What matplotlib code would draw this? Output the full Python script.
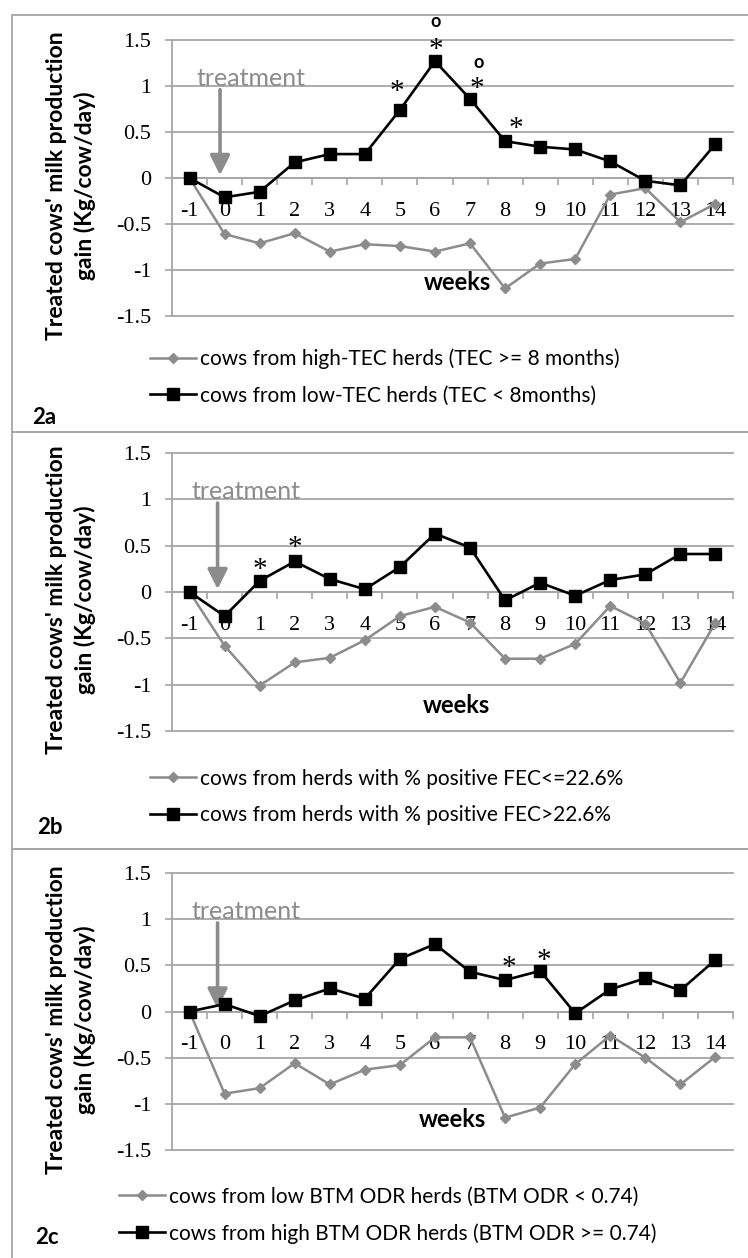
import numpy as np
import matplotlib
matplotlib.use("Agg")
import matplotlib.pyplot as plt
from matplotlib.patches import Rectangle

# weeks relative to treatment
weeks = list(range(-1, 15))

# panel 2a
a_high_tec = [0, -0.61, -0.71, -0.6, -0.8, -0.72, -0.74, -0.8, -0.71, -1.2, -0.93, -0.88, -0.18, -0.11, -0.48, -0.28]
a_low_tec = [0, -0.21, -0.15, 0.17, 0.26, 0.26, 0.74, 1.27, 0.86, 0.4, 0.34, 0.31, 0.18, -0.03, -0.08, 0.37]
a_star_x = [4.92, 6.03, 7.2, 8.3]
a_star_y = [0.98, 1.43, 1.01, 0.57]
a_circ_x = [6.03, 7.25]
a_circ_y = [1.70, 1.25]

# panel 2b
b_low_fec = [0, -0.58, -1.01, -0.76, -0.71, -0.52, -0.26, -0.16, -0.33, -0.72, -0.72, -0.56, -0.15, -0.34, -0.98, -0.33]
b_high_fec = [0, -0.26, 0.12, 0.33, 0.14, 0.03, 0.27, 0.63, 0.48, -0.09, 0.1, -0.04, 0.13, 0.19, 0.41, 0.41]
b_star_x = [1.0, 2.0]
b_star_y = [0.28, 0.52]

# panel 2c
c_low_odr = [0, -0.89, -0.83, -0.56, -0.79, -0.63, -0.58, -0.28, -0.28, -1.15, -1.04, -0.57, -0.26, -0.5, -0.79, -0.49]
c_high_odr = [0, 0.08, -0.05, 0.12, 0.25, 0.14, 0.57, 0.73, 0.43, 0.34, 0.44, -0.02, 0.24, 0.36, 0.23, 0.56]
c_star_x = [8.1, 9.1]
c_star_y = [0.51, 0.59]

labels_a = ["cows from high-TEC herds (TEC >= 8 months)", "cows from low-TEC herds (TEC < 8months)"]
labels_b = ["cows from herds with % positive FEC<=22.6%", "cows from herds with % positive FEC>22.6%"]
labels_c = ["cows from low BTM ODR herds (BTM ODR < 0.74)", "cows from high BTM ODR herds (BTM ODR >= 0.74)"]

W, H = 748, 1258
GRID = "#a6a6a6"
GRAY = "#8c8c8c"
SANS = ["Lato", "DejaVu Sans"]
SERIF = ["Liberation Serif", "DejaVu Serif"]

fig = plt.figure(figsize=(W / 100, H / 100), dpi=100)


def px_x(x):
    return x / W


def px_y(y):
    return 1 - y / H


def draw_panel(top_px, bot_px, box_top, box_bot, gray_vals, black_vals, labels, tag,
               star_x, star_y, circ_x, circ_y, treat_x, arrow_x, weeks_x, weeks_y,
               leg_x, leg_y):
    # panel frame
    fig.add_artist(Rectangle((px_x(12), px_y(box_bot)), px_x(760), box_bot / H - box_top / H,
                             transform=fig.transFigure, fill=False, ec=GRID, lw=1.3))

    ax = fig.add_axes([px_x(172), px_y(bot_px), px_x(733 - 172), (bot_px - top_px) / H])
    ax.set_xlim(-1.5, 14.5)
    ax.set_ylim(-1.5, 1.5)

    l1, = ax.plot(weeks, gray_vals, color=GRAY, lw=1.8, marker="D", ms=5, mfc=GRAY, mec=GRAY,
                  label=labels[0], zorder=3)
    l2, = ax.plot(weeks, black_vals, color="black", lw=1.9, marker="s", ms=9, mfc="black",
                  mec="black", label=labels[1], zorder=4)

    ax.set_yticks([-1.5, -1, -0.5, 0, 0.5, 1, 1.5])
    ax.set_yticklabels(["-1.5", "-1", "-0.5", "0", "0.5", "1", "1.5"])
    ax.yaxis.grid(True, color=GRID, lw=1.3)
    for gl in ax.get_ygridlines():
        gl.set_clip_on(False)
    ax.set_axisbelow(True)

    for s in ["top", "right"]:
        ax.spines[s].set_visible(False)
    ax.spines["bottom"].set_position(("data", 0))
    ax.spines["bottom"].set_color(GRID)
    ax.spines["bottom"].set_linewidth(1.3)
    ax.spines["left"].set_color(GRID)
    ax.spines["left"].set_linewidth(1.3)

    ax.set_xticks(weeks)
    ax.set_xticklabels([str(w) for w in weeks])
    ax.set_xticks(np.arange(-0.5, 14.6, 1), minor=True)
    ax.tick_params(axis="x", which="major", length=0, pad=17, labelsize=16)
    ax.tick_params(axis="x", which="minor", length=5, width=1.2, color=GRID, direction="out")
    ax.tick_params(axis="y", length=5, width=1.2, color=GRID, pad=10, labelsize=16)
    for t in ax.get_xticklabels() + ax.get_yticklabels():
        t.set_fontfamily(SERIF)

    for x, y in zip(star_x, star_y):
        ax.text(x, y - 0.04, "*", ha="center", va="center", fontsize=21, family=SERIF, zorder=5)
    for x, y in zip(circ_x, circ_y):
        ax.text(x, y, "o", ha="center", va="center", fontsize=13, fontweight="bold",
                family=SANS, zorder=5)

    ax.text(treat_x, 1.08, "treatment", ha="left", va="center", fontsize=18, color=GRAY, family=SANS)
    ax.annotate("", xy=(arrow_x, 0.03), xytext=(arrow_x, 0.96),
                arrowprops=dict(arrowstyle="-|>", color=GRAY, lw=2.6, mutation_scale=30,
                                shrinkA=0, shrinkB=0))
    ax.text(weeks_x, weeks_y, "weeks", ha="center", va="center", fontsize=17,
            fontweight="bold", family=SANS)

    fig.text(px_x(71), px_y((top_px + bot_px) / 2 + 8),
             "Treated cows' milk production\ngain (Kg/cow/day)", rotation=90,
             ha="center", va="center", fontsize=16.5, fontweight="bold", family=SANS,
             linespacing=1.4)

    fig.legend(handles=[l1, l2], loc="center left",
               bbox_to_anchor=(px_x(leg_x), px_y(leg_y)), frameon=False,
               prop={"family": SANS, "size": 15}, handlelength=2.2, handletextpad=0.2,
               labelspacing=0.8, borderpad=0, borderaxespad=0, numpoints=1)

    fig.text(px_x(tag[1]), px_y(tag[2]), tag[0], ha="left", va="center", fontsize=16,
             fontweight="bold", family=SANS)


draw_panel(40, 316, 15, 432, a_high_tec, a_low_tec, labels_a, ("2a", 32, 418),
           a_star_x, a_star_y, a_circ_x, a_circ_y, -0.79, -0.13, 6.63, -1.14, 150, 377)
draw_panel(453, 731, 432, 849, b_low_fec, b_high_fec, labels_b, ("2b", 37, 828),
           b_star_x, b_star_y, [], [], -0.93, -0.2, 6.6, -1.23, 150, 797)
draw_panel(873, 1150, 849, 1300, c_low_odr, c_high_odr, labels_c, ("2c", 35, 1237),
           c_star_x, c_star_y, [], [], -0.93, -0.2, 6.5, -1.17, 119, 1215)

fig.savefig("out.png", dpi=100)
